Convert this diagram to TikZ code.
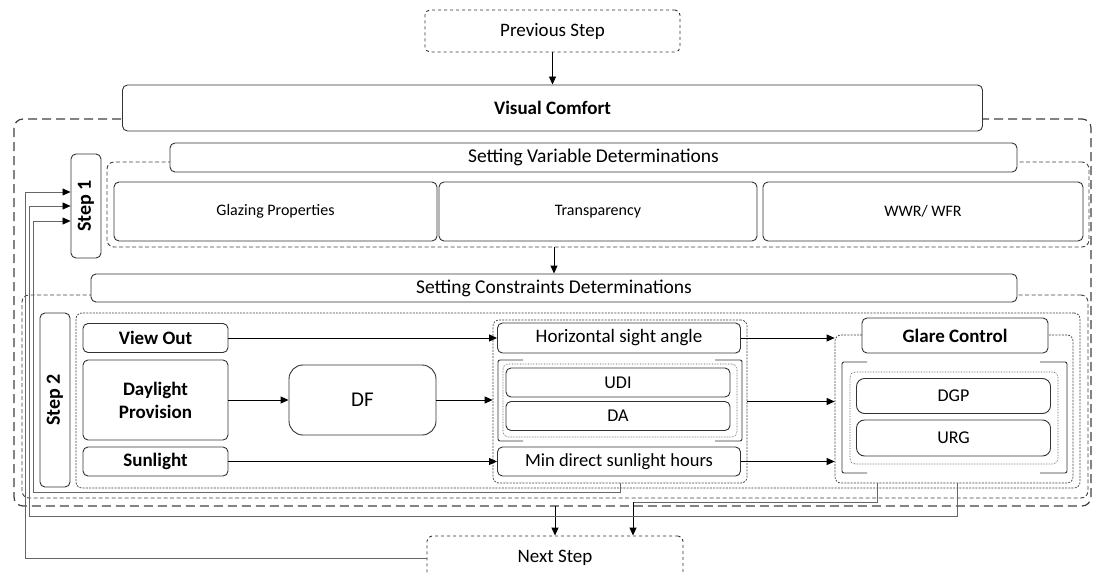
\documentclass[tikz,border=0pt]{standalone}
\usepackage{fontspec}
\setmainfont{Carlito}
\usetikzlibrary{arrows.meta, positioning}

\begin{document}
\begin{tikzpicture}[x=1pt,y=-1pt,
  box/.style={draw=black!80,line width=0.9pt,rounded corners=5pt,fill=white,inner sep=0pt},
  bigdash/.style={draw=black!75,line width=1.2pt,dash pattern=on 9pt off 5pt,rounded corners=9pt},
  grpdash/.style={draw=black!75,line width=0.9pt,dash pattern=on 4pt off 2.5pt,rounded corners=7pt,inner sep=0pt},
  finedash/.style={draw=black!75,line width=0.7pt,dash pattern=on 2pt off 1.2pt,rounded corners=6pt,inner sep=0pt},
  dotline/.style={draw=black!70,line width=0.6pt,densely dotted,rounded corners=5pt,inner sep=0pt},
  bracket/.style={draw=black!80,line width=0.9pt,rounded corners=2pt},
  arrow/.style={-{Triangle[length=8pt,width=7pt]},line width=0.9pt,black},
  back/.style={line width=0.6pt,black!60},
  backarrow/.style={back,-{Triangle[length=8pt,width=7pt,black]}}]
\useasboundingbox (0,0) rectangle (1094,575);

% groups
\draw[bigdash] (14,119) rectangle (1091,506);
\node[grpdash,minimum width=982pt,minimum height=85pt] (vargroup) at (598,204.5) {};
\node[grpdash,minimum width=1066pt,minimum height=203pt] (congroup) at (555,396.5) {};
\node[finedash,minimum width=1004pt,minimum height=175pt] (rowgroup) at (578,400.5) {};
\node[finedash,minimum width=254pt,minimum height=163pt] (midgroup) at (620,401.5) {};
\node[finedash,minimum width=238pt,minimum height=148pt] (glaregroup) at (954,409) {};
\node[dotline,minimum width=234pt,minimum height=73pt] (middot) at (620,400.5) {};
\node[dotline,minimum width=208pt,minimum height=92pt] (glaredot) at (954,418) {};

% brackets
\draw[bracket] (523,360) -- (498,360) -- (498,441) -- (523,441);
\draw[bracket] (715,360) -- (742,360) -- (742,441) -- (715,441);
\draw[bracket] (867,362) -- (842,362) -- (842,473) -- (867,473);
\draw[bracket] (1040,362) -- (1067,362) -- (1067,473) -- (1040,473);

% top
\node[box,dashed,minimum width=255pt,minimum height=42pt,font=\fontsize{19}{22}\selectfont] (prev) at (552.5,31) {Previous Step};
\node[box,minimum width=860pt,minimum height=46pt,font=\fontsize{19}{22}\selectfont\bfseries] (visual) at (552.5,108) {Visual Comfort};
\draw[arrow] (prev) -- (visual);

% step 1
\node[box,minimum width=847pt,minimum height=29pt,font=\fontsize{19.5}{22}\selectfont] (setvar) at (593.5,157.5) {Setting Variable Determinations};
\node[box,minimum width=323pt,minimum height=59pt,font=\fontsize{16}{19}\selectfont] (glazing) at (275.5,211.5) {Glazing Properties};
\node[box,minimum width=318pt,minimum height=59pt,font=\fontsize{16}{19}\selectfont] (transp) at (598,211.5) {Transparency};
\node[box,minimum width=320pt,minimum height=59pt,font=\fontsize{16}{19}\selectfont] (wwr) at (923,211.5) {WWR/ WFR};
\node[box,rotate=90,minimum width=104pt,minimum height=30pt,font=\fontsize{20}{23}\selectfont\bfseries] (step1) at (86,206) {Step 1};

% step 2
\node[box,minimum width=926pt,minimum height=28pt,font=\fontsize{19.5}{22}\selectfont] (setcon) at (554,288) {Setting Constraints Determinations};
\draw[arrow] (setcon.north |- vargroup.south) -- (setcon.north);
\node[box,rotate=90,minimum width=174pt,minimum height=30pt,font=\fontsize{20}{23}\selectfont\bfseries] (step2) at (55,400) {Step 2};

\node[box,minimum width=145pt,minimum height=29pt,font=\fontsize{19}{22}\selectfont\bfseries] (view) at (155.5,338) {View Out};
\node[box,minimum width=145pt,minimum height=80pt,align=center,font=\fontsize{19}{23}\selectfont\bfseries] (daylight) at (155.5,400) {Daylight\\Provision};
\node[box,minimum width=145pt,minimum height=29pt,font=\fontsize{19}{22}\selectfont\bfseries] (sun) at (155.5,461.5) {Sunlight};
\node[box,rounded corners=14pt,minimum width=147pt,minimum height=70pt,font=\fontsize{21}{24}\selectfont] (df) at (362.5,400) {DF};

\node[box,minimum width=243pt,minimum height=30pt,font=\fontsize{19}{22}\selectfont] (horiz) at (619,338) {Horizontal sight angle};
\node[box,minimum width=224pt,minimum height=29pt,font=\fontsize{18}{21}\selectfont] (udi) at (618,382.5) {UDI};
\node[box,minimum width=224pt,minimum height=29pt,font=\fontsize{18}{21}\selectfont] (da) at (618,416) {DA};
\node[box,minimum width=243pt,minimum height=29pt,font=\fontsize{18.5}{21}\selectfont] (mindirect) at (619,461.5) {Min direct sunlight hours};

\node[box,minimum width=186pt,minimum height=35pt,font=\fontsize{19}{22}\selectfont\bfseries] (glare) at (955,335.5) {Glare Control};
\node[box,rounded corners=8pt,minimum width=194pt,minimum height=35pt,font=\fontsize{18}{21}\selectfont] (dgp) at (953.5,396) {DGP};
\node[box,rounded corners=8pt,minimum width=194pt,minimum height=36pt,font=\fontsize{18}{21}\selectfont] (urg) at (953.5,438) {URG};

\draw[arrow] (view) -- (horiz);
\draw[arrow] (daylight) -- (df);
\draw[arrow] (df.east) -- (df.east -| midgroup.west);
\draw[arrow] (sun) -- (mindirect);
\draw[arrow] (horiz.east) -- (horiz.east -| glaregroup.west);
\draw[arrow] (midgroup.east) -- (midgroup.east -| glaregroup.west);
\draw[arrow] (mindirect.east) -- (mindirect.east -| glaregroup.west);

% next step and feedback
\node[box,dashed,minimum width=256pt,minimum height=44pt,font=\fontsize{19}{22}\selectfont] (next) at (555,558) {Next Step};
\coordinate (j1) at (633,502);
\draw[arrow] (next.north |- 0,506) -- (next.north);
\draw[back] ([xshift=-77pt]glaregroup.south) |- (j1);
\draw[arrow] (j1) -- (j1 |- next.north);
\draw[backarrow] (midgroup.south) |- (33,492) |- ([yshift=-15pt]step1.north);
\draw[backarrow] ([xshift=3pt]glaregroup.south) |- (29,516) |- (step1.north);
\draw[backarrow] (next.west) -| (25,192) -- ([yshift=14pt]step1.north);
\end{tikzpicture}
\end{document}
